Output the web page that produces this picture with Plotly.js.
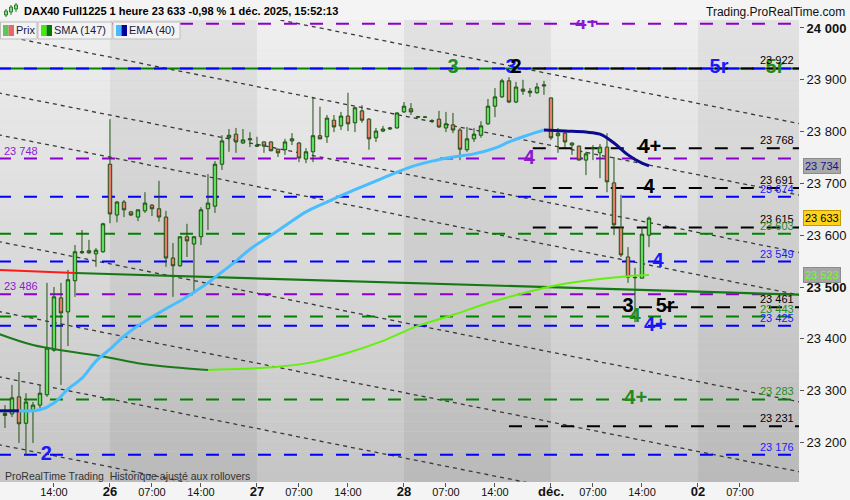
<!DOCTYPE html>
<html><head><meta charset="utf-8">
<script src="https://cdn.plot.ly/plotly-3.0.1.min.js"></script>
<style>html,body{margin:0;padding:0;background:#f4f4f4;}#chart{width:850px;height:500px;}</style>
</head><body><div id="chart"></div>
<script>
// ---------- DATA ----------
const tradingDays = ['25', '26', '27', '28', '01'];
const barsPerDay = 21;            // 01:00 .. 21:00 hourly bars
const firstHour = [7, 1, 1, 1, 1];
const lastHour  = [21, 21, 21, 21, 15];

const opens = [23256,23255,23288,23237,23263,23272,23292,23378,23479,23452,23512,23566,23570,23564,23568,
 23737,23639,23664,23645,23635,23647,23658,23651,23635,23556,23541,23597,23583,23597,23651,23656,23737,23788,23795,23778,23784,
 23774,23780,23780,23766,23765,23782,23778,23747,23761,23792,23790,23822,23811,23830,23817,23840,23824,23788,23801,23805,23807,
 23838,23844,23829,23828,23820,23824,23807,23813,23803,23765,23786,23793,23815,23849,23867,23898,23857,23882,23875,23875,23888,
 23865,23792,23797,23774,23772,23745,23767,23759,23770,23701,23614,23558,23519,23517,23600];
const highs = [23272,23311,23336,23295,23278,23311,23508,23500,23508,23533,23581,23610,23591,23575,23624,
 23824,23666,23668,23647,23649,23683,23660,23705,23647,23585,23597,23622,23597,23654,23718,23743,23793,23805,23807,23805,23799,
 23790,23781,23781,23767,23786,23797,23780,23768,23867,23848,23832,23832,23838,23875,23848,23851,23826,23807,23811,23809,23837,
 23857,23855,23830,23829,23824,23840,23838,23836,23807,23809,23807,23820,23863,23884,23902,23905,23896,23900,23884,23894,23898,
 23866,23807,23803,23779,23773,23761,23774,23776,23797,23751,23678,23577,23537,23616,23636];
const lows = [23228,23249,23199,23176,23199,23266,23288,23375,23311,23386,23481,23564,23564,23539,23566,
 23623,23625,23635,23637,23627,23643,23637,23626,23539,23481,23539,23558,23488,23581,23610,23643,23726,23761,23759,23776,23770,
 23770,23759,23762,23751,23755,23774,23741,23739,23741,23785,23778,23799,23803,23801,23799,23817,23765,23780,23799,23803,23806,
 23836,23832,23827,23827,23817,23807,23799,23797,23745,23761,23780,23788,23813,23828,23865,23855,23855,23871,23867,23873,23871,
 23784,23759,23770,23755,23745,23716,23745,23710,23683,23600,23558,23508,23432,23517,23577];
const closes = [23252,23286,23236,23278,23272,23295,23382,23481,23450,23514,23568,23568,23566,23571,23622,
 23641,23664,23649,23639,23649,23662,23651,23635,23556,23541,23597,23589,23597,23649,23662,23737,23782,23793,23780,23784,23786,
 23772,23772,23763,23759,23780,23786,23749,23761,23792,23786,23826,23809,23830,23815,23846,23822,23786,23801,23805,23807,23836,
 23849,23838,23828,23828,23821,23809,23815,23803,23766,23786,23795,23811,23849,23867,23898,23857,23886,23878,23878,23886,23890,
 23788,23797,23780,23778,23745,23757,23768,23770,23703,23620,23562,23519,23518,23602,23633];

// SMA (147): falling part (dark) and rising part (light)
const smaFallBars = [5,10,15,20,25,30,35];
const smaFall     = [23410,23388,23376,23366,23353,23345,23340];
const smaRiseBars = [35,40,45,50,55,60,65,70,75,80,85,90,95,98];
const smaRise     = [23340,23342,23346,23355,23373,23396,23425,23446,23469,23488,23504,23514,23521,23523];

// EMA (40)
const emaFallBarsA = [5,8];
const emaFallA     = [23261,23261];
const emaRiseBars  = [8,11,13,15,17,19,21,23,25,27,29,31,33,35,37,39,41,43,46,49,52,55,58,61,64,67,70,73,76,78,80,82,83];
const emaRise      = [23261,23263,23276,23303,23324,23357,23380,23405,23425,23442,23458,23473,23490,23508,23529,23550,23573,23591,23618,23645,23664,23682,23699,23716,23732,23743,23751,23757,23768,23780,23790,23799,23803];
const emaFallBarsB = [83,86,89,91,93,95,97,98];
const emaFallB     = [23803,23801,23799,23795,23778,23755,23739,23734];

// straight trend line (red part then green part)
const redBars = [5,16],    redPrices = [23533,23527];
const grnBars = [16,120],  grnPrices = [23527,23485];

// parallel dotted channel lines: price at bar 5 and bar 120
const chanBars  = [5, 120];
const chanLeft  = [24124,23987,23875,23794,23588,23453,23327,23196];
const chanRight = [23814,23676,23565,23483,23277,23142,23016,22885];

// horizontal levels
const levelPrice = [24008,23922,23922,23922,23768,23748,23691,23674,23615,23603,23549,23486,23461,23443,23425,23283,23231,23176];
const levelKind  = ['purple','green','blue','black','black','purple','black','blue','black','green','blue','purple','black','green','blue','green','black','blue'];
const levelStart = [5,5,5,81.4,81.4,5,81.4,5,81.4,5,5,5,78,5,5,5,78,5];
const levelSolid = [false,true,false,false,false,false,false,false,false,false,false,false,false,false,false,false,false,false];
const levelLabel = ['none','none','none','right','right','left','right','right','right','right','right','left','right','right','right','right','right','right'];

// wave labels
const waveText  = ['3','3','2','5r','5r','4+','4+','4','4','4','3','5r','4','4+','4+','2'];
const waveBar   = [70,78.3,79,108,116,89.1,98.1,80.9,98,99.3,95,100.3,96,98.9,96.1,11.9];
const wavePrice = [23922,23922,23922,23922,23922,24008,23768,23748,23691,23549,23461,23461,23443,23425,23283,23176];
const waveKind  = ['green','blue','black','blue','green','purple','black','purple','black','blue','black','black','green','blue','green','blue'];

// axis markers
const lastPrice = 23633, emaLast = 23734, smaLast = 23523;
const yTicks = [23200,23300,23400,23500,23600,23700,23800,23900,24000];
const xTickDay  = [0,1,1,1,2,2,2,3,3,3,4,4,4,5,5];
const xTickHour = [14,1,7,14,1,7,14,1,7,14,1,7,14,1,7];
const dayNames  = ['25','26','27','28','déc.','02'];

// ---------- BUILD ----------
const lineColor = {purple:'#8a00cc', green:'#008200', blue:'#0000ff', black:'#000000'};
const textColor = {purple:'#8a1ad0', green:'#1f8c1f', blue:'#1a1aff', black:'#000000'};
const idx = (d, h) => d * barsPerDay + (h - 1);

const barX = [];
tradingDays.forEach((d, di) => { for (let h = firstHour[di]; h <= lastHour[di]; h++) barX.push(idx(di, h)); });

const PW = 799, PT = 20, PB = 482, PH = PB - PT;
const px = v => v / PW;
const py = v => (PB - v) / PH;

const shapes = [];
// background gradient
const N = 46;
for (let k = 0; k < N; k++) {
  const c = Math.round(239 - (239 - 197) * (k + 0.5) / N);
  shapes.push({type:'rect', xref:'paper', yref:'paper', x0:0, x1:1, y0:1 - k / N, y1:1 - (k + 1) / N,
    fillcolor:`rgb(${c},${c},${c})`, line:{width:0}, layer:'below'});
}
// alternate day shading
[1, 3, 5].forEach(d => shapes.push({type:'rect', xref:'x', yref:'paper', x0:d * barsPerDay, x1:(d + 1) * barsPerDay,
  y0:0, y1:1, fillcolor:'rgba(0,0,0,0.05)', line:{width:0}, layer:'below'}));
// channel lines
chanLeft.forEach((p, k) => shapes.push({type:'line', xref:'x', yref:'y', x0:chanBars[0], x1:chanBars[1], y0:p, y1:chanRight[k],
  line:{color:'#3a3a3a', width:1.3, dash:'4px,4px'}, layer:'below'}));
// levels
levelPrice.forEach((p, k) => shapes.push({type:'line', xref:'x', yref:'y', x0:levelStart[k], x1:120, y0:p, y1:p,
  line:{color:lineColor[levelKind[k]], width:2, dash: levelSolid[k] ? 'solid' : '13px,13px'}, layer:'below'}));

// header / legend decorations (paper coords)
function rectPx(x0, y0, x1, y1, fill, lc) {
  shapes.push({type:'rect', xref:'paper', yref:'paper', x0:px(x0), x1:px(x1), y0:py(y0), y1:py(y1),
    fillcolor:fill, line:{color:lc || fill, width: lc ? 1 : 0}});
}
function linePx(x0, y0, x1, y1, c) {
  shapes.push({type:'line', xref:'paper', yref:'paper', x0:px(x0), x1:px(x1), y0:py(y0), y1:py(y1), line:{color:c, width:1}});
}
// candle icon
[[6,9,17,11,15],[11,5,15,7,12],[16,3,12,5,9]].forEach(c => { linePx(c[0], c[1], c[0], c[2], '#2a7a2a'); rectPx(c[0]-1.5, c[3], c[0]+1.5, c[4], '#7ee07e', '#2a7a2a'); });
// legend boxes
rectPx(0.5, 22, 37, 39, '#f3f3f3', '#bdbdbd');
rectPx(38, 22, 112, 39, '#f3f3f3', '#bdbdbd');
rectPx(113, 22, 180, 39, '#f3f3f3', '#bdbdbd');
rectPx(3, 25, 8.5, 36, '#58c858'); rectPx(8.5, 25, 14, 36, '#e46a6a');
rectPx(41, 25, 46.5, 36, '#44ee00'); rectPx(46.5, 25, 52, 36, '#007a00');
rectPx(116, 25, 121.5, 36, '#44bbff'); rectPx(121.5, 25, 127, 36, '#00009a');

const annotations = [];
const ann = (o) => annotations.push(Object.assign({showarrow:false}, o));
ann({xref:'paper', yref:'paper', x:px(22), y:py(11), xanchor:'left', yanchor:'middle',
  text:'<b>DAX40 Full1225 1 heure 23 633 -0,98 % 1 déc. 2025, 15:52:13</b>', font:{family:'Arial', size:11, color:'#000'}});
ann({xref:'paper', yref:'paper', x:px(847), y:py(12), xanchor:'right', yanchor:'middle',
  text:'Trading.ProRealTime.com', font:{family:'Arial', size:12, color:'#111'}});
ann({xref:'paper', yref:'paper', x:px(14), y:py(30.5), xanchor:'left', yanchor:'middle', text:'Prix', font:{family:'Arial', size:11, color:'#1a1a40'}});
ann({xref:'paper', yref:'paper', x:px(52), y:py(30.5), xanchor:'left', yanchor:'middle', text:'SMA (147)', font:{family:'Arial', size:11, color:'#1a1a40'}});
ann({xref:'paper', yref:'paper', x:px(127), y:py(30.5), xanchor:'left', yanchor:'middle', text:'EMA (40)', font:{family:'Arial', size:11, color:'#1a1a40'}});
ann({xref:'paper', yref:'paper', x:px(3), y:py(476), xanchor:'left', yanchor:'middle',
  text:'ProRealTime Trading\u00a0\u00a0Historique ajusté aux rollovers', font:{family:'Arial', size:10.5, color:'#333'}});

// level value labels
const fmt = v => String(v).replace(/(\d{2})(\d{3})/, '$1 $2');
levelPrice.forEach((p, k) => {
  if (levelLabel[k] === 'none') return;
  ann({xref:'paper', yref:'y', x: levelLabel[k] === 'right' ? px(796) : px(2), y:p,
    xanchor: levelLabel[k] === 'right' ? 'right' : 'left', yanchor:'bottom', yshift:0,
    text:fmt(p), font:{family:'Arial', size:11, color:textColor[levelKind[k]]}});
});
// right axis markers
[[emaLast, '#a9a9a9', '#12129a', '#8c8c8c'], [lastPrice, '#ffd21c', '#000000', '#c49a00'], [smaLast, '#a6a6a6', '#6dff2a', '#8c8c8c']]
  .forEach(m => ann({xref:'paper', yref:'y', x:px(803), y:m[0], xanchor:'left', yanchor:'middle', text:fmt(m[0]),
    bgcolor:m[1], bordercolor:m[3], borderwidth:1, borderpad:1, font:{family:'Arial', size:11, color:m[2]}}));

// ---------- TRACES ----------
const traces = [];
traces.push({type:'candlestick', x:barX, open:opens, high:highs, low:lows, close:closes,
  increasing:{line:{color:'#1e4f12', width:1}, fillcolor:'#5fe05f'},
  decreasing:{line:{color:'#1e4f12', width:1}, fillcolor:'#ea7b6e'},
  whiskerwidth:0, hoverinfo:'skip'});
traces.push({type:'scatter', mode:'lines', x:redBars, y:redPrices, line:{color:'#ff1a1a', width:2}, hoverinfo:'skip'});
traces.push({type:'scatter', mode:'lines', x:grnBars, y:grnPrices, line:{color:'#137a13', width:2.2}, hoverinfo:'skip'});
traces.push({type:'scatter', mode:'lines', x:smaFallBars, y:smaFall, line:{color:'#1a7a1a', width:2, shape:'spline'}, hoverinfo:'skip'});
traces.push({type:'scatter', mode:'lines', x:smaRiseBars, y:smaRise, line:{color:'#66ee11', width:2, shape:'spline'}, hoverinfo:'skip'});
traces.push({type:'scatter', mode:'lines', x:emaFallBarsA, y:emaFallA, line:{color:'#0a0a8c', width:3}, hoverinfo:'skip'});
traces.push({type:'scatter', mode:'lines', x:emaRiseBars, y:emaRise, line:{color:'#48bdff', width:3, shape:'spline'}, hoverinfo:'skip'});
traces.push({type:'scatter', mode:'lines', x:emaFallBarsB, y:emaFallB, line:{color:'#0a0a8c', width:3, shape:'spline'}, hoverinfo:'skip'});
traces.push({type:'scatter', mode:'text', x:waveBar, y:wavePrice, text:waveText, textposition:'middle center', cliponaxis:true,
  textfont:{family:'Arial', size:20, weight:'bold', color:waveKind.map(k => textColor[k])}, hoverinfo:'skip'});

const tickvals = xTickDay.map((d, k) => idx(d, xTickHour[k]));
const ticktext = xTickDay.map((d, k) => xTickHour[k] === 1
  ? `<span style="font-size:13px"><b>${dayNames[d]}</b></span>`
  : (xTickHour[k] < 10 ? '0' : '') + xTickHour[k] + ':00');

const layout = {
  width:850, height:500,
  margin:{l:0, r:51, t:PT, b:500 - PB, pad:0},
  paper_bgcolor:'#f4f4f4', plot_bgcolor:'#dddddd',
  showlegend:false,
  xaxis:{range:[5.29, 119.43], tickvals, ticktext, ticks:'outside', ticklen:4, tickcolor:'#555',
    ticklabelstandoff:-4,
    showgrid:false, zeroline:false, showline:false, rangeslider:{visible:false},
    tickfont:{family:'Arial', size:11, color:'#111'}, fixedrange:true},
  yaxis:{side:'right', range:[23123.6, 24015.4], tickvals:yTicks,
    ticktext:yTicks.map(v => (v % 500 === 0) ? `<b>${fmt(v)}</b>` : fmt(v)),
    ticks:'outside', ticklen:4, tickcolor:'#555', showgrid:false, zeroline:false, showline:false,
    tickfont:{family:'Arial', size:13, color:'#111'}, fixedrange:true},
  shapes, annotations
};
Plotly.newPlot('chart', traces, layout, {staticPlot:true, displayModeBar:false});
</script></body></html>
